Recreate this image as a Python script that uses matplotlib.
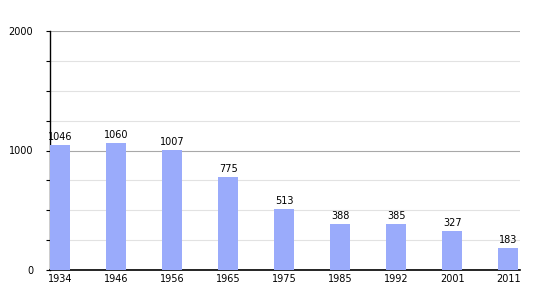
import numpy as np
import matplotlib.pyplot as plt

years = ["1934", "1946", "1956", "1965", "1975", "1985", "1992", "2001", "2011"]
population = [1046, 1060, 1007, 775, 513, 388, 385, 327, 183]

fig = plt.figure(figsize=(5.5, 3), dpi=100)
ax = fig.add_axes([50 / 550, 30 / 300, 470 / 550, 239 / 300])

x = np.arange(len(years))
bw = 0.36
bars = ax.bar(x, population, width=bw, align='edge', color='#9aabfb', zorder=3)
for b, v in zip(bars, population):
    ax.text(b.get_x() + bw / 2, v + 25, str(v), ha='center', va='bottom', fontsize=7, zorder=4)

ax.set_xlim(0, 8.39)
ax.set_ylim(0, 2000)
ax.set_xticks(x + bw / 2)
ax.set_xticklabels(years, fontsize=7)
ax.set_yticks([0, 1000, 2000])
ax.set_yticklabels(["0", "1000", "2000"], fontsize=7)
ax.set_yticks(np.arange(0, 2001, 250), minor=True)
ax.tick_params(axis='x', length=0, pad=3)
ax.tick_params(axis='y', which='both', length=3, width=0.8, direction='out', pad=9)
ax.grid(axis='y', which='minor', color='#e2e2e2', linewidth=0.8, zorder=0)
ax.grid(axis='y', which='major', color='#a8a8a8', linewidth=0.8, zorder=1)

for s in ['top', 'right']:
    ax.spines[s].set_visible(False)
ax.spines['left'].set_color('black')
ax.spines['bottom'].set_color('black')
ax.spines['left'].set_linewidth(1)
ax.spines['bottom'].set_linewidth(1.2)

fig.savefig("out.png", dpi=100)
